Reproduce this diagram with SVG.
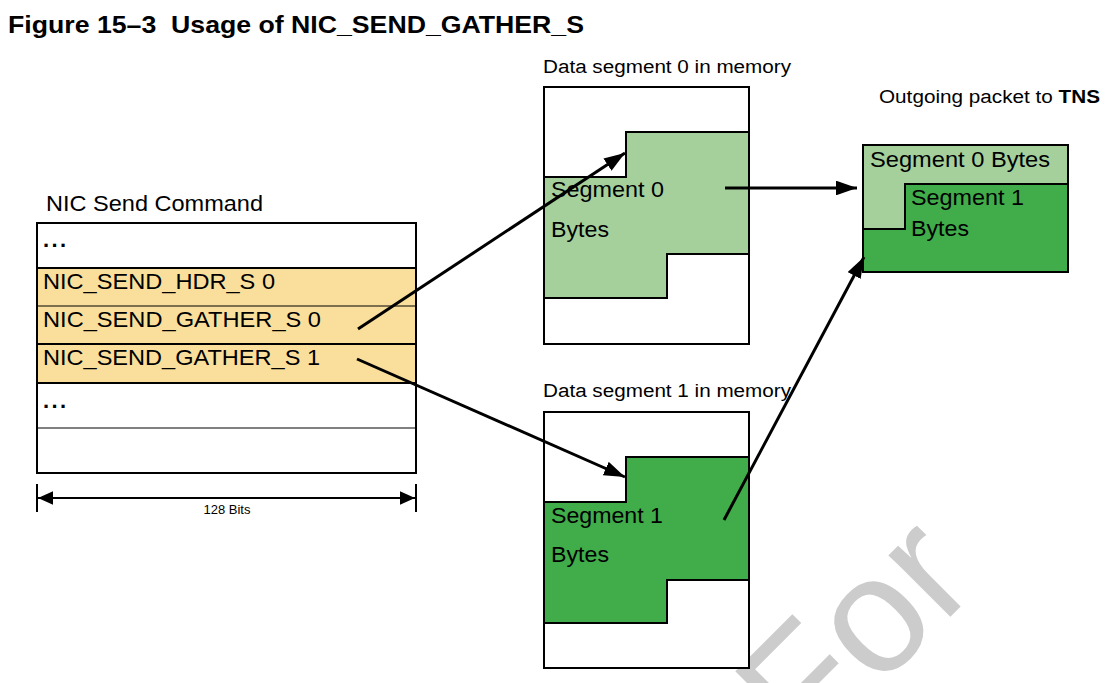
<svg xmlns="http://www.w3.org/2000/svg" width="1108" height="683" viewBox="0 0 1108 683">
<style>
text{font-family:"Liberation Sans",Arial,sans-serif;fill:#000}
.t{font-size:22px}
.s{font-size:18px}
.box{fill:#fff;stroke:#000;stroke-width:2}
.ln{stroke:#000;fill:none}
.arr{stroke:#000;stroke-width:3;fill:none;marker-end:url(#ah)}
</style>
<defs>
<marker id="ah" viewBox="0 0 10 7" refX="10" refY="3.5" markerWidth="7" markerHeight="4.9" markerUnits="strokeWidth" orient="auto">
<path d="M0,0 L10,3.5 L0,7 Z" fill="#000"/>
</marker>
<marker id="dh" viewBox="0 0 10 9" refX="10" refY="4.5" markerWidth="7.5" markerHeight="6.75" markerUnits="strokeWidth" orient="auto-start-reverse">
<path d="M0,0 L10,4.5 L0,9 Z" fill="#000"/>
</marker>
</defs>
<rect width="1108" height="683" fill="#fff"/>
<text x="806" y="761" transform="rotate(-45 806 761)" style="font-size:165px;fill:#cccccc">For</text>
<text x="8" y="33" style="font-size:24px;font-weight:bold" textLength="576" lengthAdjust="spacingAndGlyphs" xml:space="preserve">Figure 15–3  Usage of NIC_SEND_GATHER_S</text>

<g id="cmd">
<text class="t" x="46" y="211" textLength="217" lengthAdjust="spacingAndGlyphs">NIC Send Command</text>
<rect x="37" y="268" width="379" height="115" fill="#f9df9b"/>
<rect x="37" y="223" width="379" height="250" fill="none" stroke="#000" stroke-width="2"/>
<line class="ln" stroke-width="2" x1="37" y1="268" x2="416" y2="268"/>
<line class="ln" stroke-width="1" x1="37" y1="306" x2="416" y2="306"/>
<line class="ln" stroke-width="2" x1="37" y1="344" x2="416" y2="344"/>
<line class="ln" stroke-width="2" x1="37" y1="383" x2="416" y2="383"/>
<line class="ln" stroke-width="1" x1="37" y1="428" x2="416" y2="428"/>
<text class="t" x="43" y="247" textLength="23" lengthAdjust="spacing" style="font-weight:bold">...</text>
<text class="t" x="43" y="289" textLength="232" lengthAdjust="spacingAndGlyphs">NIC_SEND_HDR_S 0</text>
<text class="t" x="43" y="327" textLength="278" lengthAdjust="spacingAndGlyphs">NIC_SEND_GATHER_S 0</text>
<text class="t" x="43" y="365" textLength="277" lengthAdjust="spacingAndGlyphs">NIC_SEND_GATHER_S 1</text>
<text class="t" x="43" y="408" textLength="23" lengthAdjust="spacing" style="font-weight:bold">...</text>
</g>

<g id="dim">
<line class="ln" stroke-width="2" x1="37" y1="484" x2="37" y2="512"/>
<line class="ln" stroke-width="2" x1="416" y1="484" x2="416" y2="512"/>
<line x1="38" y1="498" x2="415" y2="498" stroke="#000" stroke-width="2" marker-start="url(#dh)" marker-end="url(#dh)"/>
<text x="227" y="514" text-anchor="middle" style="font-size:13px">128 Bits</text>
</g>

<g id="seg0">
<text class="s" x="543" y="73" textLength="248" lengthAdjust="spacingAndGlyphs">Data segment 0 in memory</text>
<rect class="box" x="544" y="87" width="205" height="257"/>
<path d="M544,177 H626 V132 H749 V254 H667 V298 H544 Z" fill="#a5d09c" stroke="#000" stroke-width="2"/>
<text class="t" x="551" y="197" textLength="113" lengthAdjust="spacingAndGlyphs">Segment 0</text>
<text class="t" x="551" y="237" textLength="58" lengthAdjust="spacingAndGlyphs">Bytes</text>
</g>

<g id="seg1">
<text class="s" x="543" y="397" textLength="248" lengthAdjust="spacingAndGlyphs">Data segment 1 in memory</text>
<rect class="box" x="544" y="412" width="205" height="256"/>
<path d="M544,502 H626 V457 H749 V580 H667 V623 H544 Z" fill="#41ad4a" stroke="#000" stroke-width="2"/>
<text class="t" x="551" y="523" textLength="112" lengthAdjust="spacingAndGlyphs">Segment 1</text>
<text class="t" x="551" y="562" textLength="58" lengthAdjust="spacingAndGlyphs">Bytes</text>
</g>

<g id="packet">
<text class="s" x="879" y="103" textLength="221" lengthAdjust="spacingAndGlyphs">Outgoing packet to <tspan font-weight="bold">TNS</tspan></text>
<rect x="863" y="145" width="205" height="127" fill="#a5d09c" stroke="#000" stroke-width="2"/>
<path d="M905,184 H1068 V272 H863 V229 H905 Z" fill="#41ad4a" stroke="#000" stroke-width="2"/>
<text class="t" x="870" y="167" textLength="180" lengthAdjust="spacingAndGlyphs">Segment 0 Bytes</text>
<text class="t" x="911" y="205" textLength="113" lengthAdjust="spacingAndGlyphs">Segment 1</text>
<text class="t" x="911" y="236" textLength="58" lengthAdjust="spacingAndGlyphs">Bytes</text>
</g>

<g id="connectors">
<line class="arr" x1="358" y1="329" x2="625" y2="153"/>
<line class="arr" x1="357" y1="359" x2="625" y2="477"/>
<line class="arr" x1="725" y1="188" x2="857" y2="188"/>
<line class="arr" x1="724" y1="520" x2="864" y2="257"/>
</g>
</svg>
